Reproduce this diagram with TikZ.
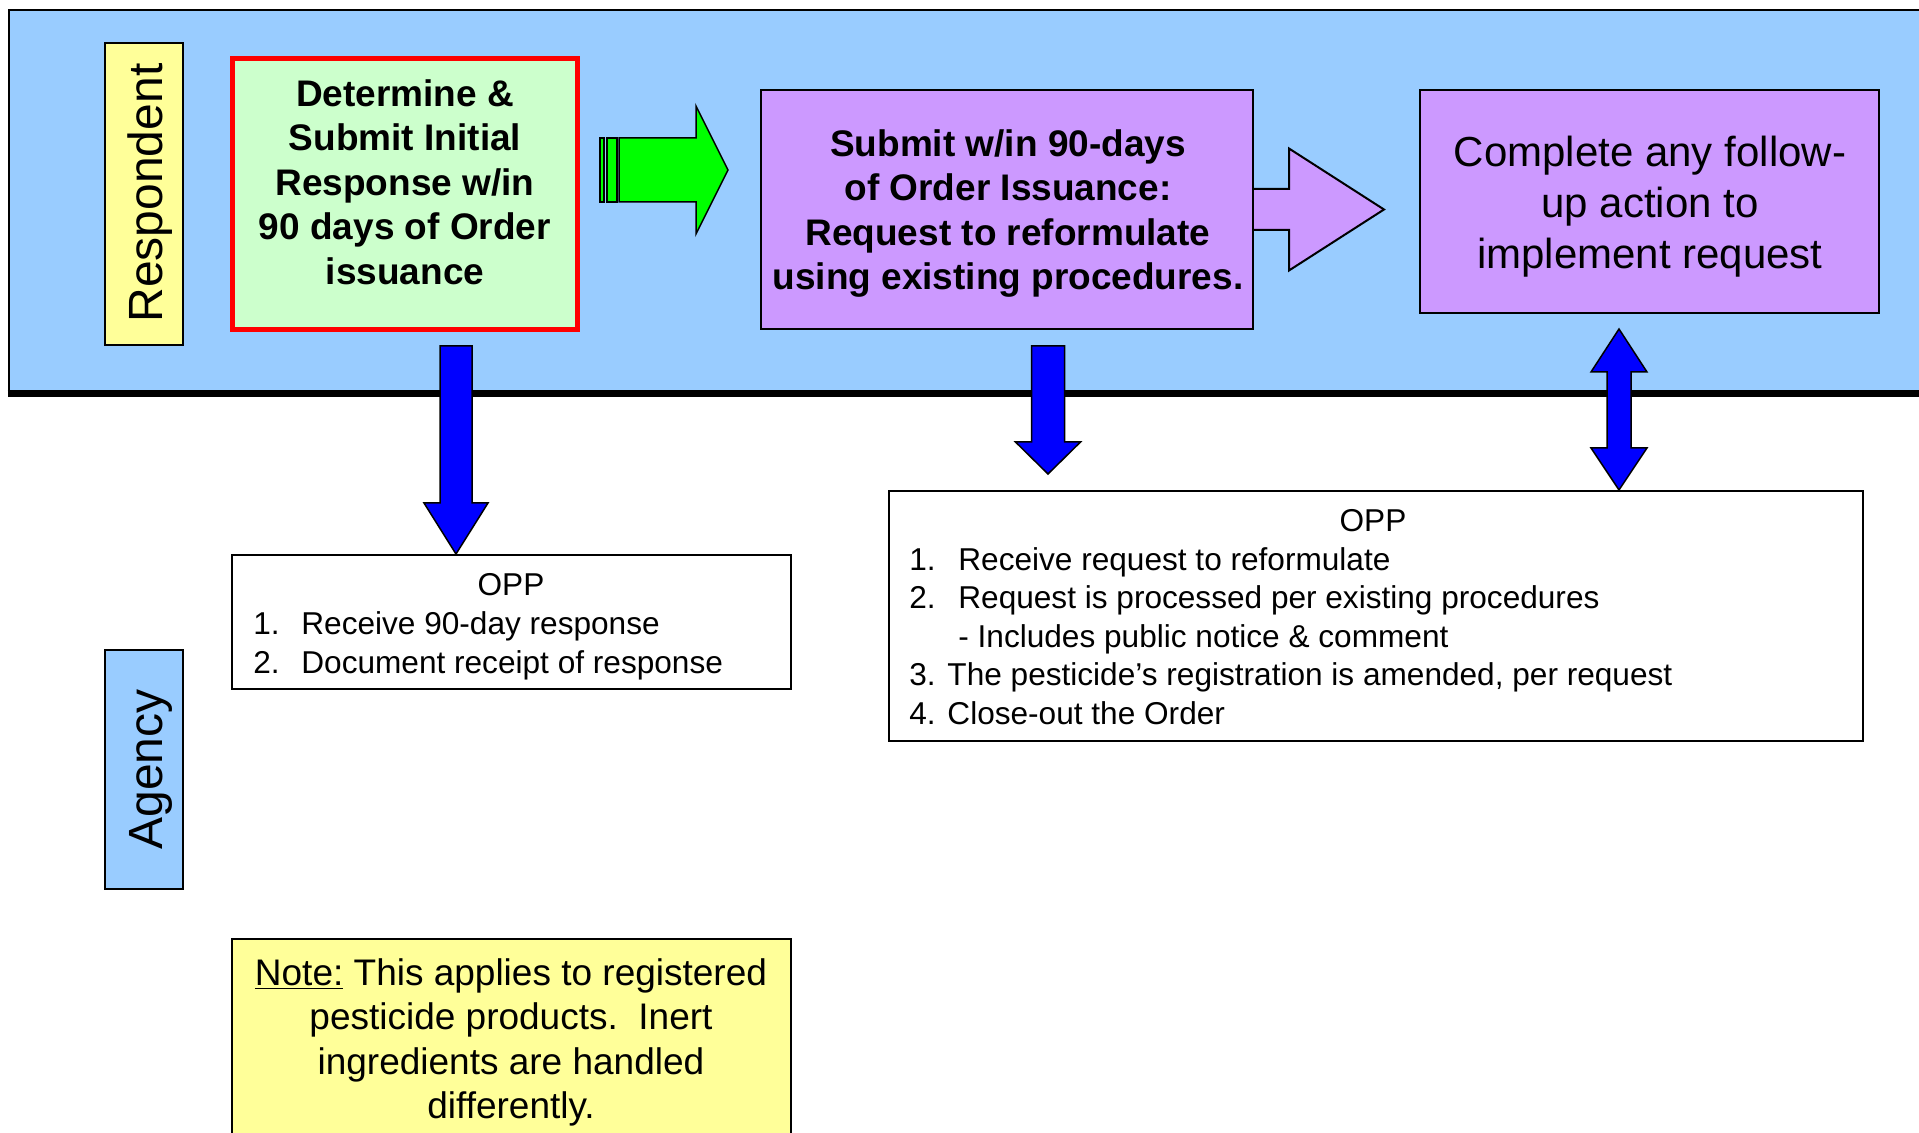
\documentclass[tikz,border=0pt]{standalone}
\usepackage{fontspec}
\setmainfont{Liberation Sans}
\usetikzlibrary{calc,fit}
\definecolor{bandblue}{HTML}{99CCFF}
\definecolor{lgreen}{HTML}{CCFFCC}
\definecolor{lpurple}{HTML}{CC99FF}
\definecolor{lyellow}{HTML}{FFFF99}
\definecolor{brightgreen}{HTML}{00FF00}
\definecolor{pureblue}{HTML}{0000FF}
\begin{document}
\begin{tikzpicture}[x=0.5pt,y=-0.5pt,
  box/.style={draw=black,line width=1pt,inner sep=0pt,outer sep=0pt},
  lanelbl/.style={rotate=90,anchor=base,inner sep=0pt,font=\fontsize{24pt}{28pt}\selectfont},
  boldtxt/.style={font=\bfseries\fontsize{18.5pt}{22.25pt}\selectfont,align=center,inner sep=0pt,anchor=north},
  bigtxt/.style={font=\fontsize{21pt}{25.5pt}\selectfont,align=center,inner sep=0pt,anchor=north},
  notetxt/.style={font=\fontsize{18.5pt}{22.15pt}\selectfont,align=center,inner sep=0pt,anchor=north},
  opphead/.style={font=\fontsize{15.8pt}{19pt}\selectfont,inner sep=0pt,anchor=base},
  listtxt/.style={font=\fontsize{15.8pt}{19.25pt}\selectfont,align=left,inner sep=0pt,anchor=north west},
  blockblue/.style={fill=pureblue,draw=black,line width=0.75pt,line join=miter},
  blockgreen/.style={fill=brightgreen,draw=black,line width=0.75pt,line join=miter},
  blockpurple/.style={draw=black,line width=1pt,line join=miter}]
\fill[white] (0,0) rectangle (1919,1133);
\useasboundingbox (0,0) rectangle (1919,1133);
\clip (0,0) rectangle (1919,1133);

% respondent lane
\node[fill=bandblue,inner sep=0pt,outer sep=0pt,fit={(8.7,10)(1919,393)}] (lane) {};
\draw[line width=1pt] (lane.south west) -- (lane.north west) -- (lane.north east);
\draw[line width=3.5pt] ($(lane.south west)+(-1,0.5)$) -- ($(lane.south east)+(0,0.5)$);

% lane labels
\node[box,fill=lyellow,fit={(105,43)(183,345)}] (resp) {};
\node[lanelbl] (resptxt) at (162,193) {Respondent};
\node[box,fill=bandblue,fit={(104.5,650)(183,889)}] (agency) {};
\node[lanelbl] (agtxt) at (162,769.5) {Agency};

% box 1
\node[box,draw=red,line width=2.5pt,fill=lgreen,fit={(232.5,58.5)(577.5,329.5)}] (b1) {};
\node[boldtxt] (b1t) at (405,74.85) {\strut Determine \&\\Submit Initial\\Response w/in\\90 days of Order\\issuance};

% green arrow
\draw[blockgreen] (600,138) rectangle (604,202);
\draw[blockgreen] (607,138) rectangle (617,202);
\coordinate (g0) at (619,170);
\coordinate (gtip) at (728,170);
\draw[blockgreen] ($(g0)+(0,-32)$) -- ($(gtip)+(-32,-32)$) -- ($(gtip)+(-32,-64)$) -- (gtip) -- ($(gtip)+(-32,64)$) -- ($(gtip)+(-32,32)$) -- ($(g0)+(0,32)$) -- cycle;

% box 2
\node[box,fill=lpurple,fit={(761,90)(1253,329)}] (b2) {};
\node[boldtxt] (b2t) at (1008,124.85) {\strut Submit w/in 90-days\\of Order Issuance:\\Request to reformulate\\using existing procedures.};

% purple arrow
\fill[lpurple] ($(b2.east)+(1,-20.5)$) -- ($(b2.east)+(36,-20.5)$) -- ($(b2.east)+(36,-61)$) -- ($(b2.east)+(131,0)$) -- ($(b2.east)+(36,61)$) -- ($(b2.east)+(36,20.5)$) -- ($(b2.east)+(1,20.5)$) -- cycle;
\draw[blockpurple] ($(b2.east)+(0,-20.5)$) -- ($(b2.east)+(36,-20.5)$) -- ($(b2.east)+(36,-61)$) -- ($(b2.east)+(131,0)$) -- ($(b2.east)+(36,61)$) -- ($(b2.east)+(36,20.5)$) -- ($(b2.east)+(0,20.5)$);

% box 3
\node[box,fill=lpurple,fit={(1420,90)(1879,313)}] (b3) {};
\node[bigtxt] (b3t) at (1650,130.3) {\strut Complete any follow-\\up action to\\implement request};

% OPP box 1
\node[box,fill=white,fit={(232,555)(791,689)}] (opp1) {};
\node[opphead] (opp1h) at (511,596) {OPP};
\node[listtxt] (opp1l) at (253,607.4) {\strut\makebox[24pt][l]{1.}Receive 90-day response\\\strut\makebox[24pt][l]{2.}Document receipt of response};

% OPP box 2
\node[box,fill=white,fit={(889,491)(1863,741)}] (opp2) {};
\node[opphead] (opp2h) at (1373,531.5) {OPP};
\node[listtxt] (opp2l) at (909,543.05) {\strut\makebox[24.5pt][l]{1.}Receive request to reformulate\\\strut\makebox[24.5pt][l]{2.}Request is processed per existing procedures\\\strut\makebox[24.5pt][l]{}- Includes public notice \& comment\\\strut 3. The pesticide’s registration is amended, per request\\\strut 4. Close-out the Order};

% note box
\node[box,fill=lyellow,fit={(232,939)(791,1160)}] (note) {};
\node[notetxt] (notet) at (511,954) {\strut\underline{Note:} This applies to registered\\pesticide products.\ \ Inert\\ingredients are handled\\differently.};

% blue arrow 1
\coordinate (d1top) at (456,346);
\coordinate (d1tip) at (d1top |- opp1.north);
\draw[blockblue] ($(d1top)+(-16,0)$) -- ($(d1top)+(16,0)$) -- ($(d1tip)+(16,-52)$) -- ($(d1tip)+(32,-52)$) -- ($(d1tip)+(0,-1)$) -- ($(d1tip)+(-32,-52)$) -- ($(d1tip)+(-16,-52)$) -- cycle;

% blue arrow 2
\coordinate (d2top) at (1048,346);
\coordinate (d2tip) at (1048,474);
\draw[blockblue] ($(d2top)+(-16.5,0)$) -- ($(d2top)+(16.5,0)$) -- ($(d2tip)+(16.5,-32)$) -- ($(d2tip)+(32.5,-32)$) -- (d2tip) -- ($(d2tip)+(-32.5,-32)$) -- ($(d2tip)+(-16.5,-32)$) -- cycle;

% double arrow
\coordinate (u3tip) at (1619,329);
\coordinate (u3bot) at (u3tip |- opp2.north);
\draw[blockblue] (u3tip) -- ($(u3tip)+(28,43)$) -- ($(u3tip)+(12,43)$) -- ($(u3bot)+(12,-43)$) -- ($(u3bot)+(28,-43)$) -- ($(u3bot)+(0,-1)$) -- ($(u3bot)+(-28,-43)$) -- ($(u3bot)+(-12,-43)$) -- ($(u3tip)+(-12,43)$) -- ($(u3tip)+(-28,43)$) -- cycle;
\end{tikzpicture}
\end{document}
